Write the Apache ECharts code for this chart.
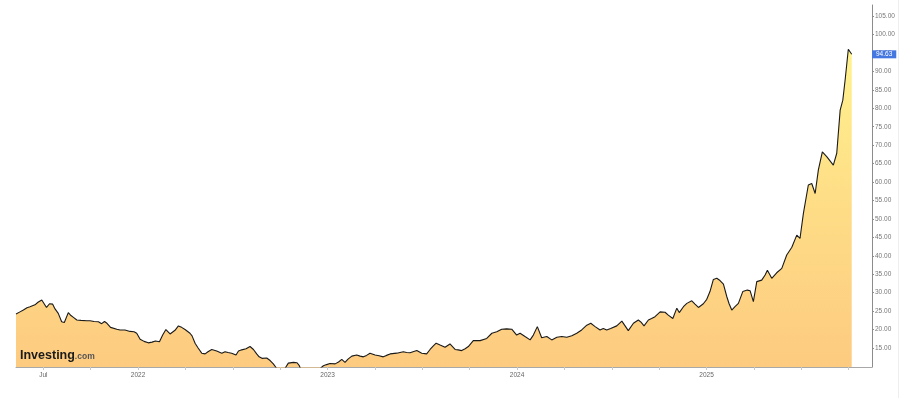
<!DOCTYPE html>
<html>
<head>
<meta charset="utf-8">
<title>Investing</title>
<script src="https://cdn.jsdelivr.net/npm/echarts@6/dist/echarts.min.js"></script>
<style>
  html, body { margin: 0; padding: 0; background: #fff; }
  #chart { width: 916px; height: 398px; }
</style>
</head>
<body>
<div id="chart"></div>
<script>
// 数据：[时间(小数年), 价格]
const quotes2021 = [
  [2021.356, 24.2], [2021.377, 24.8], [2021.395, 25.3], [2021.414, 25.9], [2021.430, 26.2],
  [2021.456, 26.7], [2021.472, 27.4], [2021.492, 28.0], [2021.500, 28.0], [2021.517, 26.0],
  [2021.533, 27.0], [2021.549, 26.9], [2021.562, 25.6], [2021.579, 24.4], [2021.597, 22.1],
  [2021.611, 21.9], [2021.632, 24.6], [2021.646, 23.8], [2021.659, 23.3], [2021.677, 22.6],
  [2021.699, 22.5], [2021.729, 22.4], [2021.747, 22.4], [2021.768, 22.2], [2021.791, 22.1],
  [2021.808, 21.6], [2021.823, 22.2], [2021.836, 21.7], [2021.855, 20.6], [2021.888, 20.1],
  [2021.905, 19.9], [2021.931, 19.9], [2021.958, 19.5], [2021.979, 19.4], [2021.993, 19.0]
];
const quotes2022 = [
  [2022.011, 17.4], [2022.032, 16.8], [2022.054, 16.4], [2022.074, 16.6], [2022.092, 16.9],
  [2022.113, 16.7], [2022.130, 18.5], [2022.147, 20.0], [2022.169, 18.8], [2022.195, 19.8],
  [2022.213, 21.0], [2022.230, 20.6], [2022.248, 20.0], [2022.274, 19.0], [2022.285, 18.3],
  [2022.301, 16.3], [2022.317, 15.0], [2022.336, 13.6], [2022.354, 13.4], [2022.369, 14.0],
  [2022.389, 14.6], [2022.415, 14.2], [2022.442, 13.6], [2022.459, 14.0], [2022.475, 13.8],
  [2022.494, 13.6], [2022.517, 13.1], [2022.530, 14.2], [2022.547, 14.5], [2022.570, 14.8],
  [2022.591, 15.4], [2022.609, 14.6], [2022.626, 13.4], [2022.639, 12.6], [2022.654, 12.2],
  [2022.679, 12.3], [2022.697, 11.6], [2022.714, 10.7], [2022.728, 9.7], [2022.749, 8.5],
  [2022.770, 9.0], [2022.793, 10.9], [2022.820, 11.1], [2022.839, 11.0], [2022.851, 10.2],
  [2022.865, 8.5], [2022.892, 7.5], [2022.918, 7.8], [2022.945, 8.5], [2022.960, 9.4],
  [2022.978, 10.2], [2022.995, 10.5]
];
const quotes2023 = [
  [2023.013, 10.8], [2023.040, 10.7], [2023.058, 11.2], [2023.075, 11.9], [2023.092, 11.1],
  [2023.108, 12.0], [2023.128, 12.8], [2023.154, 13.1], [2023.172, 12.8], [2023.189, 12.6],
  [2023.206, 13.0], [2023.224, 13.6], [2023.251, 13.1], [2023.272, 12.9], [2023.294, 12.6],
  [2023.311, 13.0], [2023.330, 13.4], [2023.365, 13.6], [2023.400, 14.0], [2023.417, 13.8],
  [2023.435, 13.7], [2023.451, 14.0], [2023.471, 14.3], [2023.497, 13.6], [2023.523, 13.4],
  [2023.541, 14.6], [2023.557, 15.5], [2023.573, 16.3], [2023.594, 15.8], [2023.620, 15.2],
  [2023.646, 16.1], [2023.673, 14.6], [2023.689, 14.5], [2023.708, 14.3], [2023.726, 14.8],
  [2023.743, 15.4], [2023.769, 17.0], [2023.786, 17.0], [2023.805, 17.0], [2023.840, 17.6],
  [2023.867, 19.0], [2023.893, 19.4], [2023.919, 20.1], [2023.945, 20.2], [2023.972, 20.1],
  [2023.998, 18.5]
];
const quotes2024 = [
  [2024.016, 19.0], [2024.042, 18.1], [2024.069, 17.2], [2024.086, 18.5], [2024.107, 20.8],
  [2024.130, 17.8], [2024.157, 18.1], [2024.183, 17.2], [2024.210, 17.9], [2024.236, 18.1],
  [2024.262, 17.9], [2024.289, 18.3], [2024.315, 19.0], [2024.341, 19.9], [2024.368, 21.2],
  [2024.389, 21.7], [2024.412, 20.8], [2024.438, 19.9], [2024.455, 20.3], [2024.473, 19.9],
  [2024.494, 20.3], [2024.526, 21.0], [2024.553, 22.3], [2024.570, 21.0], [2024.587, 19.7],
  [2024.614, 21.7], [2024.640, 22.6], [2024.654, 22.0], [2024.670, 21.0], [2024.693, 22.6],
  [2024.710, 23.0], [2024.728, 23.5], [2024.755, 24.8], [2024.781, 24.7], [2024.798, 23.9],
  [2024.822, 23.0], [2024.843, 25.8], [2024.856, 24.6], [2024.878, 26.2], [2024.896, 27.1],
  [2024.922, 27.8], [2024.939, 26.9], [2024.957, 26.0], [2024.983, 27.0]
];
const quotes2025 = [
  [2025.001, 28.2], [2025.018, 30.3], [2025.036, 33.6], [2025.054, 33.9], [2025.071, 33.3],
  [2025.089, 32.3], [2025.107, 28.9], [2025.119, 27.0], [2025.133, 25.3], [2025.150, 26.2],
  [2025.168, 27.1], [2025.191, 30.3], [2025.215, 30.7], [2025.230, 30.5], [2025.247, 27.6],
  [2025.265, 33.0], [2025.291, 33.4], [2025.309, 34.8], [2025.321, 36.1], [2025.344, 33.9],
  [2025.370, 35.4], [2025.397, 36.6], [2025.423, 40.2], [2025.450, 42.3], [2025.476, 45.6],
  [2025.493, 44.7], [2025.511, 51.5], [2025.537, 59.2], [2025.555, 59.6], [2025.573, 56.9],
  [2025.590, 63.3], [2025.611, 68.2], [2025.634, 66.9], [2025.669, 64.6], [2025.687, 67.8],
  [2025.705, 79.5], [2025.719, 82.2], [2025.731, 87.6], [2025.748, 96.0], [2025.766, 94.63]
];

const lastPrice = 94.63;
// 坐标轴刻度
const priceTicks = [15, 20, 25, 30, 35, 40, 45, 50, 55, 60, 65, 70, 75, 80, 85, 90, 95, 100, 105];
const quarterTicks = [2021.5, 2021.75, 2022, 2022.25, 2022.5, 2022.75, 2023, 2023.25, 2023.5, 2023.75,
  2024, 2024.25, 2024.5, 2024.75, 2025, 2025.25, 2025.5, 2025.75];
const timeLabels = [2021.5, 2022, 2023, 2024, 2025];

const quotes = [].concat(quotes2021, quotes2022, quotes2023, quotes2024, quotes2025);

const font = 'Liberation Sans, Arial, sans-serif';
const chart = echarts.init(document.getElementById('chart'));
chart.setOption({
  animation: false,
  backgroundColor: '#fff',
  title: {
    left: 15,
    top: 344,
    text: '{a|Investing}{b|.com}',
    textStyle: {
      rich: {
        a: { fontFamily: font, fontSize: 12.5, fontWeight: 'bold', color: '#1b1b1b' },
        b: { fontFamily: font, fontSize: 8.5, color: '#555', padding: [2, 0, 0, 0] }
      }
    }
  },
  graphic: [{
    type: 'rect',
    shape: { x: 898, y: 0, width: 1, height: 398 },
    style: { fill: '#eeeeee' },
    silent: true
  }],
  grid: { left: 16, right: 44, top: 5, bottom: 31, containLabel: false, outerBoundsMode: 'none' },
  xAxis: {
    type: 'value',
    min: 2021.356,
    max: 2025.873,
    splitLine: { show: false },
    axisLine: { lineStyle: { color: '#a8a8a8', width: 1 } },
    axisTick: { customValues: quarterTicks, length: 3, lineStyle: { color: '#c8c8c8' } },
    axisLabel: {
      customValues: timeLabels,
      fontFamily: font,
      fontSize: 6.5,
      color: '#666',
      margin: 5,
      formatter: function (v) { return v === 2021.5 ? 'Jul' : String(Math.round(v)); }
    }
  },
  yAxis: {
    type: 'value',
    position: 'right',
    min: 9.85,
    max: 108,
    splitLine: { show: false },
    axisLine: { show: true, lineStyle: { color: '#8c8c8c', width: 1 } },
    axisTick: { show: true, customValues: priceTicks, length: 2, lineStyle: { color: '#8c8c8c' } },
    axisLabel: {
      customValues: priceTicks,
      fontFamily: font,
      fontSize: 6.5,
      color: '#777',
      margin: 3,
      formatter: function (v) { return v.toFixed(2); }
    }
  },
  series: [{
    type: 'line',
    data: quotes,
    symbol: 'none',
    clip: true,
    z: 2,
    lineStyle: { color: '#1a1a1a', width: 1.1 },
    areaStyle: {
      opacity: 1,
      color: new echarts.graphic.LinearGradient(0, 0, 0, 1, [
        { offset: 0, color: '#fff28e' },
        { offset: 0.5, color: '#fedc86' },
        { offset: 1, color: '#fdca80' }
      ])
    },
    markLine: {
      silent: true,
      symbol: 'none',
      data: [{ yAxis: lastPrice }],
      lineStyle: { color: 'rgba(255,255,255,0)', width: 1 },
      label: {
        show: true,
        position: 'end',
        distance: 0,
        formatter: lastPrice.toFixed(2),
        backgroundColor: '#4477e0',
        color: '#fff',
        fontFamily: font,
        fontSize: 6.5,
        padding: [1, 4, 0, 4]
      }
    }
  }]
});
</script>
</body>
</html>
